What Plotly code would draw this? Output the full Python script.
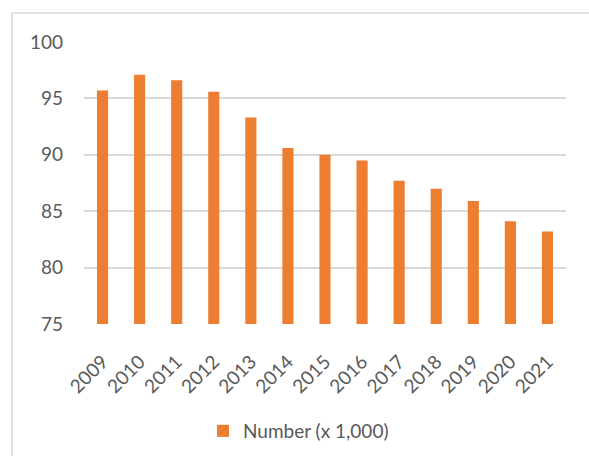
import plotly.graph_objects as go

years = ["2009", "2010", "2011", "2012", "2013", "2014", "2015", "2016", "2017", "2018", "2019", "2020", "2021"]
values = [95.7, 97.1, 96.6, 95.6, 93.3, 90.6, 90.0, 89.5, 87.7, 87.0, 85.9, 84.1, 83.2]
series_name = "Number (x 1,000)"
y_ticks = [75, 80, 85, 90, 95, 100]

W, H = 589, 456
L, R, T, B = 84, 23, 42, 132
pw, ph = W - L - R, H - T - B

def px_x(x):
    return (x - L) / pw

def px_y(y):
    return (H - B - y) / ph

FONT = "Lato, Open Sans, sans-serif"
GREY = "#595959"

fig = go.Figure()
fig.add_trace(go.Bar(x=years, y=values, name=series_name, marker_color="#ED7D31",
                     marker_line_width=0, showlegend=True))

fig.update_layout(
    width=W, height=H,
    margin=dict(l=L, r=R, t=T, b=B, autoexpand=False),
    paper_bgcolor="white", plot_bgcolor="white",
    bargap=0.7,
    font=dict(family=FONT, size=19, color=GREY),
    showlegend=True,
    legend=dict(orientation="h", x=px_x(203), xanchor="left", y=px_y(431), yanchor="middle",
                font=dict(family=FONT, size=19, color=GREY),
                itemwidth=30),
    xaxis=dict(tickangle=-45, showgrid=False, showline=False, ticks="", automargin=False,
               ticklabelstandoff=22, tickfont=dict(size=19)),
    yaxis=dict(range=[75, 100], tickvals=y_ticks, showgrid=True, gridcolor="#D9D9D9", gridwidth=1.5,
               zeroline=False, showline=False, ticks="", ticklabelstandoff=20, automargin=False,
               tickfont=dict(size=19)),
    shapes=[
        dict(type="rect", xref="paper", yref="paper",
             x0=px_x(12), x1=px_x(620), y0=px_y(480), y1=px_y(13),
             line=dict(color="#D9D9D9", width=1.5), fillcolor="rgba(0,0,0,0)", layer="below"),
    ],
)

fig.write_html("out.html")
